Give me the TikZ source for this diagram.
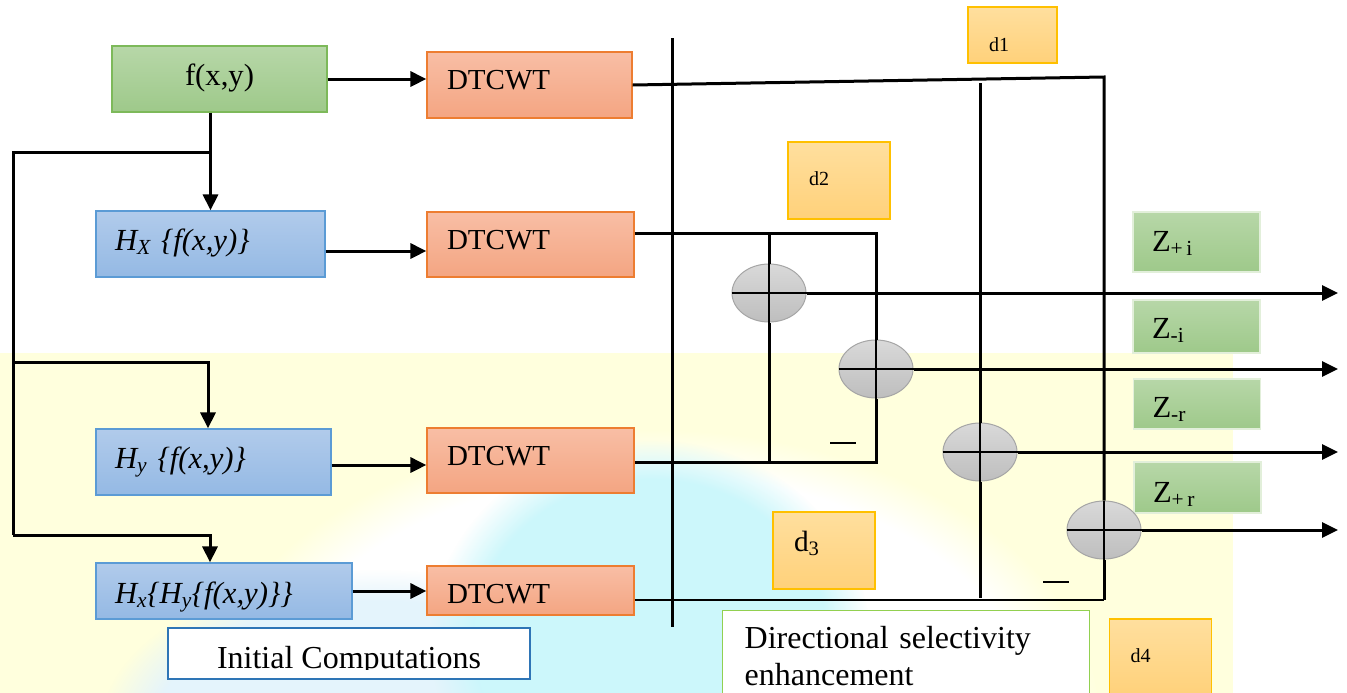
\documentclass[tikz,border=0pt]{standalone}
\usepackage{fontspec}
\setmainfont{Liberation Serif}
\usetikzlibrary{arrows.meta,shapes.geometric,fadings}
\definecolor{grT}{RGB}{183,215,168}
\definecolor{grB}{RGB}{158,201,138}
\definecolor{grD}{RGB}{125,185,90}
\definecolor{zD}{RGB}{226,239,218}
\definecolor{blT}{RGB}{177,203,235}
\definecolor{blB}{RGB}{148,185,228}
\definecolor{blD}{RGB}{91,155,213}
\definecolor{orT}{RGB}{248,190,165}
\definecolor{orB}{RGB}{244,165,130}
\definecolor{orD}{RGB}{237,125,49}
\definecolor{yeT}{RGB}{255,223,158}
\definecolor{yeB}{RGB}{255,209,122}
\definecolor{yeD}{RGB}{255,192,0}
\definecolor{ciT}{RGB}{217,217,217}
\definecolor{ciB}{RGB}{190,190,190}
\definecolor{ciD}{RGB}{165,165,165}
\definecolor{inD}{RGB}{46,117,182}
\definecolor{dsD}{RGB}{146,208,80}
\definecolor{bgY}{RGB}{255,255,221}
\definecolor{bgC}{RGB}{204,247,251}
\definecolor{bgL}{RGB}{228,244,252}
\newcommand\myfDT{\fontsize{21.75pt}{24pt}\selectfont}
\newcommand\myfH{\fontsize{23pt}{26pt}\selectfont\itshape}
\newcommand\myfZ{\fontsize{23pt}{26pt}\selectfont}
\newcommand\myfF{\fontsize{23pt}{26pt}\selectfont}
\newcommand\myfL{\fontsize{24pt}{27.75pt}\selectfont}
\newcommand\myfD{\fontsize{15pt}{18pt}\selectfont}
\newcommand\myfDbig{\fontsize{22pt}{25pt}\selectfont}
\begin{document}
\begin{tikzpicture}[x=0.75pt,y=-0.75pt,
  ln/.style={line width=2.25pt},
  lnthin/.style={line width=1.5pt},
  plusln/.style={line width=1.6pt},
  arr/.style={ln,-{Triangle[length=12pt,width=11.25pt]}},
  box/.style={rectangle,inner ysep=0pt,line width=0.9pt},
  gbox/.style={box,draw=grD,top color=grT,bottom color=grB},
  bbox/.style={box,draw=blD,top color=blT,bottom color=blB},
  obox/.style={box,draw=orD,top color=orT,bottom color=orB},
  ybox/.style={box,draw=yeD,top color=yeT,bottom color=yeB,align=left,inner xsep=15.75pt,text depth=0pt},
  zbox/.style={box,draw=zD,top color=grT,bottom color=grB,align=left,text width=66.75pt,inner xsep=14.25pt,text depth=0pt,font=\myfZ},
  dtbox/.style={obox,align=left,text width=125.25pt,inner xsep=15pt,text depth=0pt,text height=6.75pt,font=\myfDT},
  hbox/.style={bbox,align=left,inner xsep=14.25pt,text depth=0pt,text height=9pt,font=\myfH},
  sumc/.style={ellipse,draw=ciD,line width=0.75pt,top color=ciT,bottom color=ciB,minimum width=55.5pt,minimum height=43.5pt,inner sep=0pt},
  minus/.style={rectangle,fill=black,minimum width=20pt,minimum height=2pt,inner sep=0pt}]
\useasboundingbox (0,0) rectangle (1347,693);
\clip (0,0) rectangle (1347,693);
% background watermark
\fill[bgY] (0,353) rectangle (1233,693);
\fill[white,path fading=circle with fuzzy edge 15 percent] (650,720) ellipse [x radius=337.5pt,y radius=217.5pt];
\fill[bgL,path fading=circle with fuzzy edge 20 percent] (380,730) ellipse [x radius=210pt,y radius=120pt];
\fill[bgC,path fading=circle with fuzzy edge 20 percent] (650,640) ellipse [x radius=165pt,y radius=150pt];
% left boxes
\node[gbox,minimum width=161.25pt,minimum height=49.5pt,font=\myfF,text height=9.75pt,text depth=0pt] (f) at (219.5,79) {f(x,y)};
\node[dtbox,minimum height=49.5pt,text width=123.75pt] (dt1) at (529.5,85) {DTCWT};
\node[dtbox,minimum height=48.75pt] (dt2) at (530.5,244.5) {DTCWT};
\node[dtbox,minimum height=48.75pt] (dt3) at (530.5,460.5) {DTCWT};
\node[dtbox,minimum height=36.75pt,text height=18.75pt] (dt4) at (530.5,590.5) {DTCWT};
\node[hbox,minimum height=49.5pt,text width=143.25pt] (hx) at (210.5,244) {H\textsubscript{X} \{f(x,y)\}};
\node[hbox,minimum height=49.5pt,text width=147.75pt] (hy) at (213.5,462) {H\textsubscript{y} \{f(x,y)\}};
\node[hbox,minimum height=42pt,text width=163.5pt,text height=18pt] (hxy) at (224,591) {H\textsubscript{x}\{H\textsubscript{y}\{f(x,y)\}\}};
% captions
\node[box,draw=inD,fill=white,minimum width=271.5pt,minimum height=38.25pt] (init) at (349,653.5) {};
\begin{scope}
\clip (168,628) rectangle (530,669);
\node[font=\myfL,anchor=base,inner sep=0pt] (initT) at (349,668) {Initial Computations};
\end{scope}
\node[box,draw=dsD,fill=white,line width=1.1pt,anchor=north west,align=left,text width=242.25pt,inner xsep=16.5pt,inner ysep=12pt,font=\myfL] (dir) at (722,610) {Directional selectivity\\enhancement};
% d boxes
\node[ybox,minimum width=66.75pt,minimum height=42pt,text width=35.25pt,text height=24pt,font=\myfD] (d1) at (1012.5,35) {d1};
\node[ybox,minimum width=76.5pt,minimum height=57.75pt,text width=45pt,text height=6.75pt,font=\myfD] (d2) at (839,180.5) {d2};
\node[ybox,minimum width=76.5pt,minimum height=57.75pt,text width=45pt,text height=8pt,text depth=6pt,font=\myfDbig] (d3) at (824,550.5) {d\textsubscript{3}};
\node[ybox,minimum width=76.5pt,minimum height=57.75pt,text width=45pt,text height=6.75pt,font=\myfD] (d4) at (1160.5,657.5) {d4};
% Z boxes
\node[zbox,minimum height=45pt,text height=13.5pt] (zpi) at (1196.5,242) {Z\textsubscript{+\,i}};
\node[zbox,minimum height=39.75pt,text height=17.25pt] (zmi) at (1196.5,326.5) {Z\textsubscript{-i}};
\node[zbox,minimum height=37.5pt,text height=19.5pt] (zmr) at (1197,404) {Z\textsubscript{-r}};
\node[zbox,minimum height=38.25pt,text height=21.75pt] (zpr) at (1197.5,487.5) {Z\textsubscript{+\,r}};
% summing junctions
\node[sumc] (c1) at (769,293) {};
\node[sumc] (c2) at (876,369) {};
\node[sumc] (c3) at (980,452) {};
\node[sumc] (c4) at (1104,530) {};
\node[minus] (m1) at (843,443) {};
\node[minus] (m2) at (1056,582) {};
% coordinates
\coordinate (b1) at (210.5,152);
\coordinate (l1) at (13,152);
\coordinate (l2) at (13,362);
\coordinate (l3) at (13,535);
\coordinate (sT) at (672,38);
\coordinate (sB) at (672,627);
\coordinate (k1) at (1104,77);
\coordinate (k2) at (876,233);
\coordinate (k3) at (769,233);
\coordinate (k4) at (876,462);
\coordinate (k5) at (980,83);
\coordinate (k6) at (980,598);
\coordinate (k7) at (1104,600);
\coordinate (o1) at (1338,293);
\coordinate (o2) at (1338,369);
\coordinate (o3) at (1338,452);
\coordinate (o4) at (1338,530);
% left connectors
\draw[arr] (f.east) -- (f.east -| dt1.west);
\draw[arr] (f.south -| hx.north) -- (hx.north);
\draw[ln] (b1) -- (l1) -- (l3);
\draw[arr] (l2) -| ([xshift=-4.125pt]hy.north);
\draw[arr] (l3) -| ([xshift=-10.5pt]hxy.north);
\draw[arr] ([yshift=-5.25pt]hx.east) -- ([yshift=-5.25pt]hx.east -| dt2.west);
\draw[arr] ([yshift=-2.25pt]hy.east) -- ([yshift=-2.25pt]hy.east -| dt3.west);
\draw[arr] (hxy.east) -- (hxy.east -| dt4.west);
% right connectors
\draw[ln] (sT) -- (sB);
\draw[ln] (dt1.east) -- (k1) -- (c4.north);
\draw[ln] ([yshift=8.625pt]dt2.east) -- (k2) -- (c2.north);
\draw[ln] (k3) -- (c1.north);
\draw[ln] (c1.south) -- (c1.south |- k4);
\draw[ln] ([yshift=-1.125pt]dt3.east) -- (k4) -- (c2.south);
\draw[ln] (k5) -- (c3.north);
\draw[ln] (c3.south) -- (k6);
\draw[ln] (c4.south) -- (k7);
\draw[lnthin] ([yshift=-7.125pt]dt4.east) -- (k7);
\draw[arr] (c1.east) -- (o1);
\draw[arr] (c2.east) -- (o2);
\draw[arr] (c3.east) -- (o3);
\draw[arr] (c4.east) -- (o4);
\foreach \c in {c1,c2,c3,c4} {
  \draw[plusln] (\c.west) -- (\c.east);
  \draw[plusln] (\c.north) -- (\c.south);
}
\end{tikzpicture}
\end{document}
